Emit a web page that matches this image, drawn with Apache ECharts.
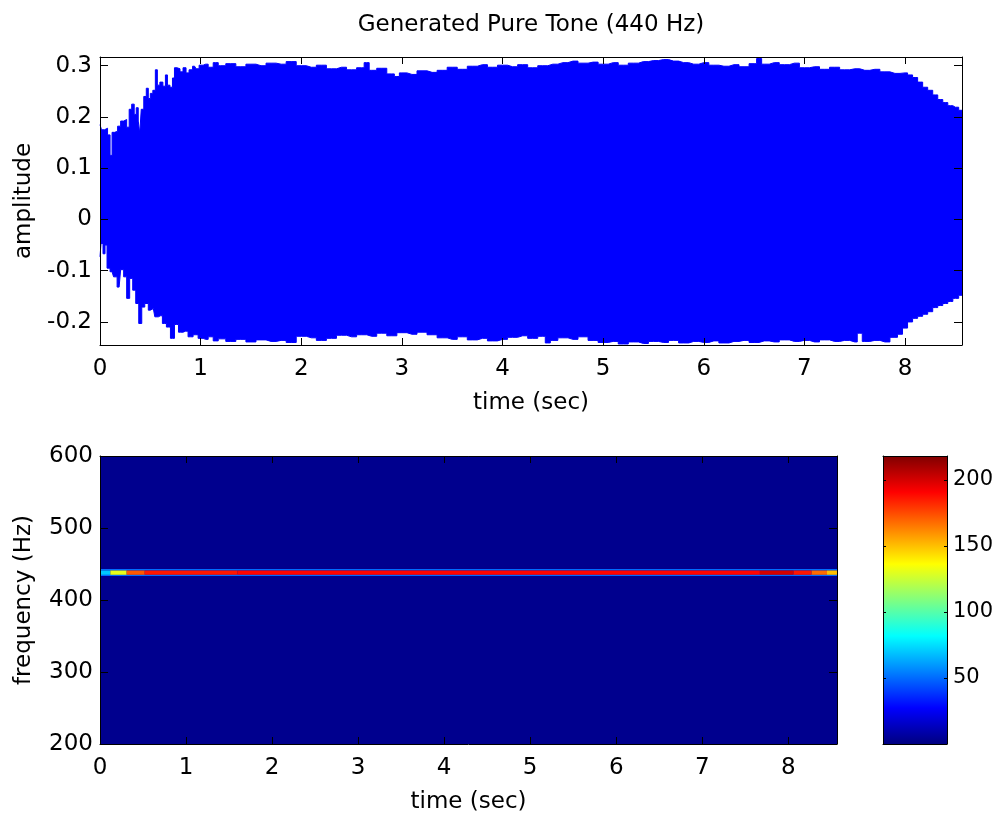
<!DOCTYPE html>
<html>
<head>
<meta charset="utf-8">
<script src="https://cdn.jsdelivr.net/npm/echarts@6/dist/echarts.min.js"></script>
<style>
html,body{margin:0;padding:0;background:#fff;}
#chart{width:998px;height:817px;}
</style>
</head>
<body>
<div id="chart"></div>
<script>
// ---------- data ----------
const titleText = 'Generated Pure Tone (440 Hz)';
const timeTicks = [0, 1, 2, 3, 4, 5, 6, 7, 8];
const timeRange = [0, 8.566];
const ampRange = [-0.245, 0.317];
const ampTicks = [-0.2, -0.1, 0, 0.1, 0.2, 0.3];
const freqRange = [200, 600];
const freqTicks = [200, 300, 400, 500, 600];
const powerRange = [0, 218];
const powerTicks = [50, 100, 150, 200];

// upper envelope of the waveform [time (s), amplitude]
const upperEnvelope = [
  [0.00,0.185],[0.03,0.175],[0.06,0.178],[0.09,0.165],[0.11,0.125],[0.13,0.170],[0.16,0.172],
  [0.19,0.182],[0.22,0.192],[0.25,0.195],[0.28,0.180],[0.30,0.215],[0.33,0.225],[0.35,0.205],
  [0.37,0.218],[0.39,0.192],[0.40,0.168],[0.42,0.215],[0.45,0.240],[0.47,0.256],[0.49,0.236],
  [0.51,0.246],[0.54,0.252],[0.56,0.292],[0.58,0.262],[0.61,0.268],[0.64,0.260],[0.66,0.282],
  [0.68,0.262],[0.71,0.258],[0.73,0.276],[0.75,0.296],[0.78,0.294],[0.81,0.288],[0.84,0.296],
  [0.87,0.286],[0.90,0.292],[0.94,0.299],[0.97,0.294],[1.00,0.301],[1.05,0.303],[1.10,0.297],
  [1.15,0.306],[1.20,0.300],[1.30,0.304],[1.40,0.298],[1.50,0.303],[1.60,0.300],[1.70,0.305],
  [1.80,0.303],[1.90,0.308],[2.00,0.300],[2.10,0.297],[2.20,0.301],[2.30,0.294],[2.40,0.297],
  [2.50,0.292],[2.60,0.296],[2.65,0.306],[2.70,0.291],[2.80,0.295],[2.90,0.284],[2.95,0.279],
  [3.00,0.286],[3.10,0.283],[3.20,0.290],[3.30,0.287],[3.40,0.291],[3.50,0.297],[3.60,0.293],
  [3.70,0.299],[3.80,0.302],[3.90,0.297],[4.00,0.301],[4.10,0.298],[4.20,0.302],[4.30,0.296],
  [4.40,0.300],[4.50,0.303],[4.60,0.306],[4.70,0.309],[4.80,0.305],[4.90,0.307],[5.00,0.303],
  [5.10,0.306],[5.20,0.301],[5.30,0.305],[5.40,0.308],[5.50,0.310],[5.60,0.312],[5.70,0.309],
  [5.80,0.306],[5.90,0.303],[6.00,0.306],[6.10,0.301],[6.20,0.299],[6.30,0.302],[6.40,0.298],
  [6.50,0.304],[6.55,0.314],[6.60,0.303],[6.70,0.306],[6.80,0.302],[6.90,0.305],[7.00,0.296],
  [7.10,0.298],[7.20,0.293],[7.30,0.297],[7.40,0.292],[7.50,0.294],[7.60,0.291],[7.70,0.293],
  [7.80,0.288],[7.90,0.285],[8.00,0.286],[8.05,0.282],[8.10,0.277],[8.15,0.268],[8.20,0.258],
  [8.25,0.252],[8.30,0.243],[8.35,0.234],[8.40,0.228],[8.45,0.222],[8.50,0.219],[8.566,0.213]
];

// lower envelope of the waveform [time (s), amplitude]
const lowerEnvelope = [
  [0.00,-0.073],[0.02,-0.047],[0.04,-0.067],[0.06,-0.050],[0.08,-0.095],[0.12,-0.102],[0.15,-0.112],
  [0.19,-0.132],[0.22,-0.098],[0.25,-0.112],[0.28,-0.154],[0.31,-0.115],[0.34,-0.138],[0.37,-0.164],
  [0.40,-0.203],[0.43,-0.171],[0.46,-0.164],[0.50,-0.177],[0.53,-0.174],[0.56,-0.190],[0.60,-0.188],
  [0.64,-0.203],[0.68,-0.210],[0.72,-0.232],[0.76,-0.205],[0.80,-0.220],[0.85,-0.218],[0.90,-0.229],
  [0.95,-0.225],[1.00,-0.232],[1.05,-0.234],[1.10,-0.229],[1.15,-0.237],[1.20,-0.233],[1.30,-0.238],
  [1.40,-0.234],[1.50,-0.239],[1.60,-0.235],[1.70,-0.238],[1.80,-0.236],[1.90,-0.240],[2.00,-0.228],
  [2.10,-0.231],[2.20,-0.236],[2.30,-0.232],[2.40,-0.226],[2.50,-0.229],[2.60,-0.225],[2.70,-0.228],
  [2.80,-0.222],[2.90,-0.227],[3.00,-0.221],[3.10,-0.224],[3.20,-0.220],[3.30,-0.225],[3.40,-0.231],
  [3.50,-0.234],[3.60,-0.229],[3.70,-0.235],[3.80,-0.232],[3.90,-0.237],[4.00,-0.234],[4.10,-0.230],
  [4.20,-0.227],[4.30,-0.232],[4.40,-0.228],[4.45,-0.241],[4.50,-0.236],[4.60,-0.231],[4.70,-0.234],
  [4.80,-0.229],[4.90,-0.236],[5.00,-0.240],[5.10,-0.238],[5.20,-0.243],[5.30,-0.239],[5.40,-0.242],
  [5.50,-0.238],[5.60,-0.240],[5.70,-0.236],[5.80,-0.241],[5.90,-0.238],[6.00,-0.240],[6.10,-0.237],
  [6.20,-0.241],[6.30,-0.238],[6.40,-0.236],[6.50,-0.240],[6.60,-0.237],[6.70,-0.239],[6.80,-0.235],
  [6.90,-0.238],[7.00,-0.236],[7.10,-0.239],[7.20,-0.235],[7.30,-0.238],[7.40,-0.236],[7.50,-0.239],
  [7.55,-0.222],[7.60,-0.238],[7.70,-0.236],[7.80,-0.239],[7.90,-0.230],[7.95,-0.224],[8.00,-0.212],
  [8.05,-0.200],[8.10,-0.193],[8.15,-0.189],[8.20,-0.185],[8.25,-0.180],[8.30,-0.172],[8.35,-0.168],
  [8.40,-0.164],[8.45,-0.160],[8.50,-0.154],[8.566,-0.148]
];

// spectrogram cells [t start, t end, f low, f high, power]
const spectroBackground = [[0, 8.566, 200, 600, 3]];
const toneEdgeCells = [
  [0, 8.566, 433.5, 435.5, 50],
  [0, 8.566, 441, 443, 50]
];
const toneCenterCells = [
  [0.00, 0.12, 435, 441, 70],
  [0.12, 0.31, 435, 441, 131],
  [0.31, 0.52, 435, 441, 172],
  [0.52, 1.60, 435, 441, 186],
  [1.60, 7.67, 435, 441, 190],
  [7.67, 8.06, 435, 441, 200],
  [8.06, 8.27, 435, 441, 186],
  [8.27, 8.45, 435, 441, 168],
  [8.45, 8.566, 435, 441, 150]
];

// MATLAB "jet" colormap, evenly spaced stops
const jetColors = ['#000080','#0000FF','#0080FF','#00FFFF','#80FF80','#FFFF00','#FF8000','#FF0000','#800000'];

// ---------- chart ----------
const FONT = 'DejaVu Sans';
const FS = 23;
const chart = echarts.init(document.getElementById('chart'), null, {renderer: 'canvas'});

function boxAxis(extra) {
  return Object.assign({
    type: 'value',
    z: 10,
    axisLine: {show: true, onZero: false, lineStyle: {color: '#000', width: 1}},
    axisTick: {show: true, inside: true, length: 7, lineStyle: {color: '#000', width: 1}},
    axisLabel: {show: false},
    splitLine: {show: false}
  }, extra);
}
const labelStyle = {color: '#000', fontFamily: FONT, fontSize: FS};
const nameStyle = {color: '#000', fontFamily: FONT, fontSize: FS};

function cellRender(params, api) {
  const p0 = api.coord([api.value(0), api.value(3)]);
  const p1 = api.coord([api.value(1), api.value(2)]);
  return {
    type: 'rect',
    shape: {x: p0[0], y: p0[1], width: p1[0] - p0[0], height: p1[1] - p0[1]},
    style: {fill: api.visual('color')}
  };
}

const jetStops = jetColors.map((c, i) => ({offset: i / (jetColors.length - 1), color: c}));

const option = {
  animation: false,
  backgroundColor: '#fff',
  title: {
    text: titleText, left: 531, top: 14, padding: 0, textAlign: 'center',
    textStyle: {color: '#000', fontFamily: FONT, fontSize: FS, fontWeight: 'normal'}
  },
  grid: [
    {left: 100, top: 57, width: 862, height: 288},
    {left: 100, top: 456, width: 737, height: 288},
    {left: 883, top: 456, width: 64, height: 288}
  ],
  visualMap: {
    type: 'continuous', show: false, min: powerRange[0], max: powerRange[1],
    dimension: 4, seriesIndex: [2, 3, 4], inRange: {color: jetColors}
  },
  xAxis: [
    boxAxis({gridIndex: 0, position: 'bottom', min: timeRange[0], max: timeRange[1],
      axisTick: {show: true, inside: true, length: 7, customValues: timeTicks, lineStyle: {color: '#000'}},
      axisLabel: {show: true, customValues: timeTicks, margin: 13, ...labelStyle},
      name: 'time (sec)', nameLocation: 'middle', nameGap: 47, nameTextStyle: nameStyle}),
    boxAxis({gridIndex: 0, position: 'top', min: timeRange[0], max: timeRange[1],
      axisTick: {show: true, inside: true, length: 7, customValues: timeTicks, lineStyle: {color: '#000'}}}),
    boxAxis({gridIndex: 1, position: 'bottom', min: timeRange[0], max: timeRange[1],
      axisTick: {show: true, inside: true, length: 7, customValues: timeTicks, lineStyle: {color: '#000'}},
      axisLabel: {show: true, customValues: timeTicks, margin: 13, ...labelStyle},
      name: 'time (sec)', nameLocation: 'middle', nameGap: 47, nameTextStyle: nameStyle}),
    boxAxis({gridIndex: 1, position: 'top', min: timeRange[0], max: timeRange[1],
      axisTick: {show: true, inside: true, length: 7, customValues: timeTicks, lineStyle: {color: '#000'}}}),
    boxAxis({gridIndex: 2, position: 'bottom', min: 0, max: 1, axisTick: {show: false}}),
    boxAxis({gridIndex: 2, position: 'top', min: 0, max: 1, axisTick: {show: false}})
  ],
  yAxis: [
    boxAxis({gridIndex: 0, position: 'left', min: ampRange[0], max: ampRange[1],
      axisTick: {show: true, inside: true, length: 8, customValues: ampTicks, lineStyle: {color: '#000'}},
      axisLabel: {show: true, customValues: ampTicks, margin: 8, ...labelStyle,
        formatter: v => String(Math.round(v * 10) / 10)},
      name: 'amplitude', nameLocation: 'middle', nameGap: 64, nameTextStyle: nameStyle}),
    boxAxis({gridIndex: 0, position: 'right', min: ampRange[0], max: ampRange[1],
      axisTick: {show: true, inside: true, length: 8, customValues: ampTicks, lineStyle: {color: '#000'}}}),
    boxAxis({gridIndex: 1, position: 'left', min: freqRange[0], max: freqRange[1],
      axisTick: {show: true, inside: true, length: 8, customValues: freqTicks, lineStyle: {color: '#000'}},
      axisLabel: {show: true, customValues: freqTicks, margin: 7, ...labelStyle},
      name: 'frequency (Hz)', nameLocation: 'middle', nameGap: 64, nameTextStyle: nameStyle}),
    boxAxis({gridIndex: 1, position: 'right', min: freqRange[0], max: freqRange[1],
      axisTick: {show: true, inside: true, length: 8, customValues: freqTicks, lineStyle: {color: '#000'}}}),
    boxAxis({gridIndex: 2, position: 'left', min: powerRange[0], max: powerRange[1],
      axisTick: {show: true, inside: true, length: 3, customValues: powerTicks, lineStyle: {color: '#000'}}}),
    boxAxis({gridIndex: 2, position: 'right', min: powerRange[0], max: powerRange[1],
      axisTick: {show: true, inside: true, length: 3, customValues: powerTicks, lineStyle: {color: '#000'}},
      axisLabel: {show: true, customValues: powerTicks, margin: 6, ...labelStyle, fontSize: 21}})
  ],
  series: [
    {
      type: 'line', xAxisIndex: 0, yAxisIndex: 0, data: upperEnvelope, symbol: 'none', step: 'middle',
      lineStyle: {color: '#0000FF', width: 1}, areaStyle: {origin: 0, color: '#0000FF', opacity: 1},
      silent: true, z: 2
    },
    {
      type: 'line', xAxisIndex: 0, yAxisIndex: 0, data: lowerEnvelope, symbol: 'none', step: 'middle',
      lineStyle: {color: '#0000FF', width: 1}, areaStyle: {origin: 0.05, color: '#0000FF', opacity: 1},
      silent: true, z: 2
    },
    {type: 'custom', xAxisIndex: 2, yAxisIndex: 2, data: spectroBackground, renderItem: cellRender,
      encode: {x: [0, 1], y: [2, 3]}, silent: true, clip: true, z: 1},
    {type: 'custom', xAxisIndex: 2, yAxisIndex: 2, data: toneEdgeCells, renderItem: cellRender,
      encode: {x: [0, 1], y: [2, 3]}, silent: true, clip: true, z: 2},
    {type: 'custom', xAxisIndex: 2, yAxisIndex: 2, data: toneCenterCells, renderItem: cellRender,
      encode: {x: [0, 1], y: [2, 3]}, silent: true, clip: true, z: 3},
    {type: 'custom', xAxisIndex: 4, yAxisIndex: 4, data: [[0, 1, powerRange[0], powerRange[1]]],
      encode: {x: [0, 1], y: [2, 3]}, silent: true, z: 1,
      renderItem: function (params, api) {
        const p0 = api.coord([api.value(0), api.value(3)]);
        const p1 = api.coord([api.value(1), api.value(2)]);
        return {
          type: 'rect',
          shape: {x: p0[0], y: p0[1], width: p1[0] - p0[0], height: p1[1] - p0[1]},
          style: {fill: new echarts.graphic.LinearGradient(0, 1, 0, 0, jetStops)}
        };
      }}
  ]
};
chart.setOption(option);
</script>
</body>
</html>
